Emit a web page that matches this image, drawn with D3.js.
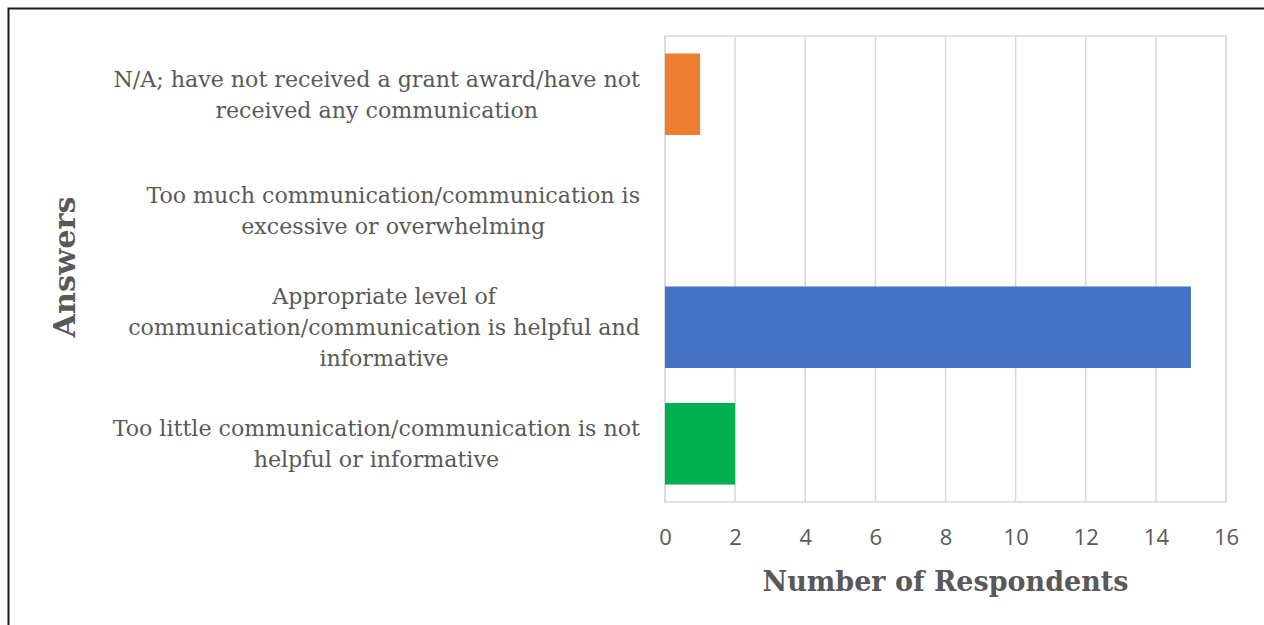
<!DOCTYPE html>
<html>
<head>
<meta charset="utf-8">
<script src="https://cdn.jsdelivr.net/npm/d3@7"></script>
<style>
  html, body { margin: 0; padding: 0; background: #ffffff; }
  svg { display: block; }
</style>
</head>
<body>
<svg id="chart" width="1264" height="625"></svg>
<script>
// Survey answers, listed top to bottom
const categories = [
  "N/A; have not received a grant award/have not received any communication",
  "Too much communication/communication is excessive or overwhelming",
  "Appropriate level of communication/communication is helpful and informative",
  "Too little communication/communication is not helpful or informative"
];
// Label line breaks for each category
const labelLines = [
  ["N/A; have not received a grant award/have not", "received any communication"],
  ["Too much communication/communication is", "excessive or overwhelming"],
  ["Appropriate level of", "communication/communication is helpful and", "informative"],
  ["Too little communication/communication is not", "helpful or informative"]
];
const respondents = [1, 0, 15, 2];
const barColors = ["#ED7D31", "#4472C4", "#4472C4", "#00B050"];
const xTicks = [0, 2, 4, 6, 8, 10, 12, 14, 16];
const xTitle = "Number of Respondents";
const yTitle = "Answers";

const svg = d3.select("#chart");
const textColor = "#595959";
const serif = "'DejaVu Serif', 'Liberation Serif', serif";

const plot = { left: 665, right: 1226, top: 36, bottom: 502 };

// outer frame
svg.append("rect")
  .attr("x", 8.5).attr("y", 8.5)
  .attr("width", 1300).attr("height", 700)
  .attr("fill", "none").attr("stroke", "#1a1a1a").attr("stroke-width", 2);

const x = d3.scaleLinear().domain([0, 16]).range([plot.left, plot.right]);
const y = d3.scaleBand().domain(categories).range([plot.top, plot.bottom])
  .paddingInner(0.3).paddingOuter(0.15);

// gridlines
svg.append("g").selectAll("line").data(xTicks).join("line")
  .attr("x1", d => x(d)).attr("x2", d => x(d))
  .attr("y1", plot.top).attr("y2", plot.bottom)
  .attr("stroke", "#d9d9d9").attr("stroke-width", 1.5);

// plot area border
svg.append("rect")
  .attr("x", plot.left).attr("y", plot.top)
  .attr("width", plot.right - plot.left).attr("height", plot.bottom - plot.top)
  .attr("fill", "none").attr("stroke", "#d9d9d9").attr("stroke-width", 1.5);

// bars
svg.append("g").selectAll("rect").data(categories).join("rect")
  .attr("x", x(0))
  .attr("y", d => y(d))
  .attr("width", (d, i) => x(respondents[i]) - x(0))
  .attr("height", y.bandwidth())
  .attr("fill", (d, i) => barColors[i]);

// x axis tick labels
const xAxis = svg.append("g")
  .attr("transform", `translate(0,${plot.bottom})`)
  .call(d3.axisBottom(x).tickValues(xTicks).tickSize(0).tickPadding(27));
xAxis.select(".domain").remove();
xAxis.selectAll("text")
  .attr("fill", textColor)
  .style("font-family", "'Open Sans', sans-serif")
  .style("font-size", "22px");

// fit a font size so that a text reaches a target width
function fitSize(text, family, weight, target) {
  const t = svg.append("text").text(text)
    .style("font-family", family).style("font-weight", weight).style("font-size", "100px");
  const w = t.node().getComputedTextLength();
  t.remove();
  return 100 * target / w;
}

// category labels: block right-aligned to the plot, each line centered within the block
const labelSize = fitSize(labelLines[0][0], serif, "normal", 527);
const lineGap = 31;
const labelRight = 640;
const labels = svg.append("g");
categories.forEach((c, i) => {
  const lines = labelLines[i];
  const g = labels.append("g");
  const texts = lines.map(l => g.append("text").text(l)
    .attr("fill", textColor)
    .style("font-family", serif)
    .style("font-size", labelSize + "px")
    .attr("text-anchor", "middle")
    .attr("dominant-baseline", "central"));
  const maxW = d3.max(texts, t => t.node().getComputedTextLength());
  const cx = labelRight - maxW / 2;
  const cy = y(c) + y.bandwidth() / 2;
  texts.forEach((t, j) => {
    t.attr("x", cx).attr("y", cy + (j - (lines.length - 1) / 2) * lineGap);
  });
});

// axis titles
const titleSize = fitSize(xTitle, serif, "bold", 366);
svg.append("text").text(xTitle)
  .attr("x", (plot.left + plot.right) / 2).attr("y", 581)
  .attr("text-anchor", "middle").attr("dominant-baseline", "central")
  .attr("fill", textColor)
  .style("font-family", serif).style("font-weight", "bold")
  .style("font-size", titleSize + "px");

const yTitleSize = fitSize(yTitle, serif, "bold", 141);
svg.append("text").text(yTitle)
  .attr("transform", "translate(64,267) rotate(-90)")
  .attr("text-anchor", "middle").attr("dominant-baseline", "central")
  .attr("fill", textColor)
  .style("font-family", serif).style("font-weight", "bold")
  .style("font-size", yTitleSize + "px");
</script>
</body>
</html>
